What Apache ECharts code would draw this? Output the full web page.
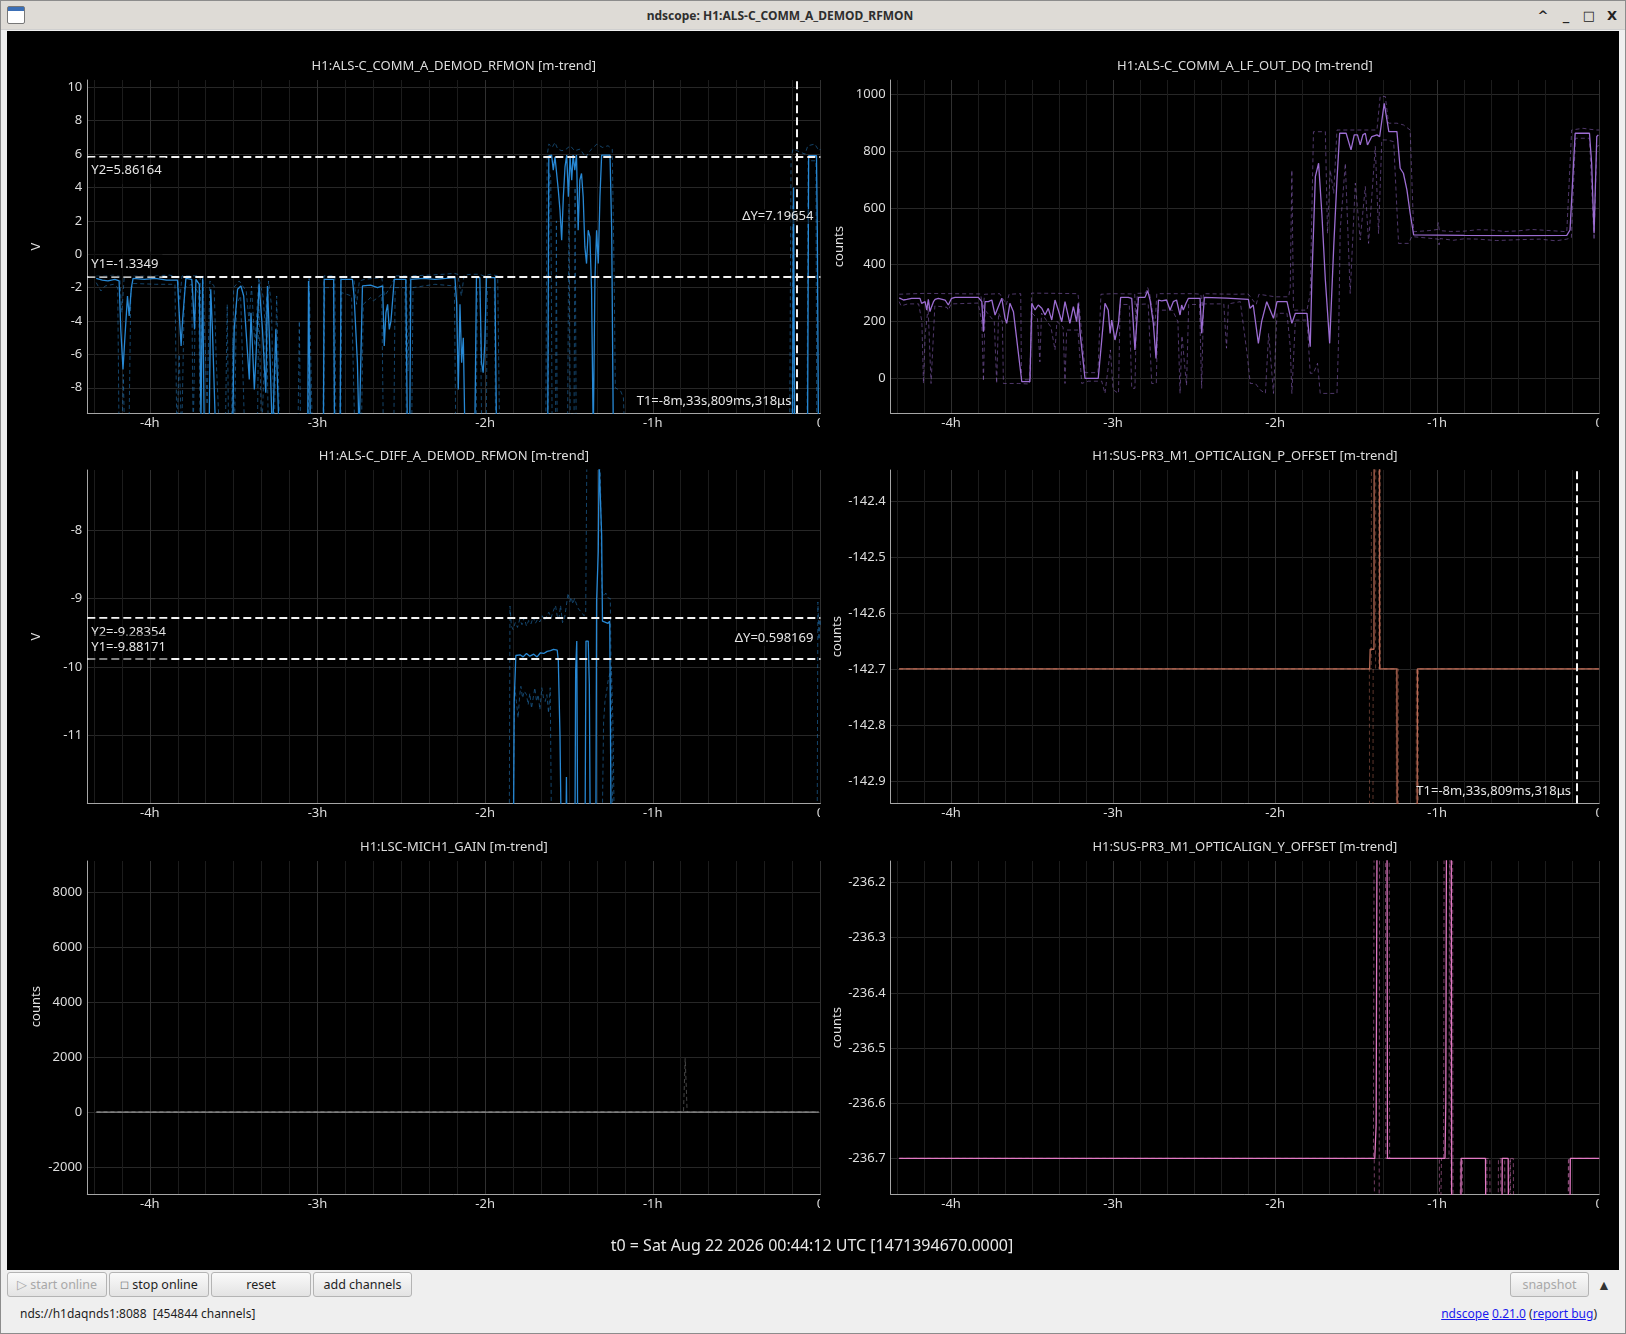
<!DOCTYPE html>
<html><head><meta charset="utf-8">
<script src="https://cdn.jsdelivr.net/npm/echarts@6/dist/echarts.min.js"></script>
<style>
body{margin:0;width:1626px;height:1334px;overflow:hidden;background:#efefef;font-family:"Noto Sans",sans-serif;position:relative}
#frame{position:absolute;left:0;top:0;width:1624px;height:1332px;border:1px solid #8c8c8c}
#titlebar{position:absolute;left:1px;top:1px;width:1624px;height:28px;background:#dedbd6;border-bottom:1px solid #cfcfcf}
#wtitle{position:absolute;left:0;top:1px;width:1558px;text-align:center;line-height:28px;font-weight:bold;font-size:12px;color:#2e2e2e}
#icon{position:absolute;left:6px;top:5px;width:16px;height:16px;border:1px solid #777;background:#fff;border-radius:2px}
#icon div{height:4px;background:#3b6fb6}
.wc{position:absolute;top:1px;line-height:28px;font-weight:bold;font-size:13px;color:#222;text-align:center;width:16px;font-family:"DejaVu Sans",sans-serif}
#plot{position:absolute;left:7px;top:31px;width:1612px;height:1239px;background:#000}
.btn{position:absolute;top:1272px;height:25px;border:1px solid #b4b4b4;border-radius:3px;background:linear-gradient(#fafafa,#e3e3e3);font-size:12.5px;line-height:23px;text-align:center;color:#1e1e1e;box-sizing:border-box;white-space:nowrap}
.dis{color:#a8a8a8}
#status{position:absolute;left:20px;top:1304px;font-size:12px;line-height:20px;color:#1e1e1e;white-space:pre}
#links{position:absolute;right:29px;top:1304px;font-size:12px;line-height:20px;color:#1e1e1e}
#links a{color:#1a1aee;text-decoration:underline}
</style></head>
<body>
<div id="frame"></div>
<div id="titlebar"><div id="icon"><div></div></div><div id="wtitle">ndscope: H1:ALS-C_COMM_A_DEMOD_RFMON</div>
<span class="wc" style="left:1534px">^</span><span class="wc" style="left:1557px">_</span><span class="wc" style="left:1580px">&#9633;</span><span class="wc" style="left:1603px">X</span></div>
<div id="plot"></div>
<div class="btn dis" style="left:7px;width:100px">&#9655; start online</div>
<div class="btn" style="left:109px;width:100px"><span style="font-size:10px;color:#666">&#9744;</span> stop online</div>
<div class="btn" style="left:211px;width:100px">reset</div>
<div class="btn" style="left:313px;width:99px">add channels</div>
<div class="btn dis" style="left:1510px;width:79px">snapshot</div>
<div style="position:absolute;left:1597px;top:1275px;font-size:14px;color:#333">&#9650;</div>
<div id="status">nds://h1daqnds1:8088  [454844 channels]</div>
<div id="links"><a>ndscope</a> <a>0.21.0</a> (<a>report bug</a>)</div>
<script>
// ---------- DATA (time in minutes relative to t0, values in channel units) ----------
const t0Label = 't0 = Sat Aug 22 2026 00:44:12 UTC [1471394670.0000]';
const xRangeHours = [-4.373, 0];
const channelTitles = [
  'H1:ALS-C_COMM_A_DEMOD_RFMON [m-trend]',
  'H1:ALS-C_COMM_A_LF_OUT_DQ [m-trend]',
  'H1:ALS-C_DIFF_A_DEMOD_RFMON [m-trend]',
  'H1:SUS-PR3_M1_OPTICALIGN_P_OFFSET [m-trend]',
  'H1:LSC-MICH1_GAIN [m-trend]',
  'H1:SUS-PR3_M1_OPTICALIGN_Y_OFFSET [m-trend]'
];
const channelUnits = ['V', 'counts', 'V', 'counts', 'counts', 'counts'];
const yRanges = [[-9.53, 10.44], [-123, 1050], [-11.985, -7.125], [-142.940, -142.345], [-2995, 9141], [-236.765, -236.161]];
const yTickSteps = [2, 200, 1, 0.1, 2000, 0.1];

const commA_mean = [[-259.2,-1.45],[-257,-1.55],[-255,-1.6],[-252.5,-1.5],[-251,-1.6],[-250.4,-4.5],[-249.6,-6.9],[-249,-5.2],[-248,-2.5],[-247.4,-3.7],[-246.6,-2.0],[-246,-1.45],[-242,-1.5],[-238,-1.45],[-234,-1.55],[-230.1,-1.55],[-229.5,-3.5],[-228.8,-5.5],[-228.3,-4.0],[-227.1,-1.45],[-225,-1.5],[-224.7,-2.2],[-224,-4.5],[-223.5,-1.5],[-222.3,-1.8],[-221.7,-9.8],[-221.1,-1.45],[-220.5,-11],[-218.8,-11],[-218.2,-2.1],[-217.6,-4.5],[-216.4,-11],[-210.4,-11],[-209.8,-4.5],[-208.6,-2.1],[-207.4,-1.9],[-206.4,-2.5],[-205.6,-4.5],[-204.4,-7.5],[-203.8,-3.5],[-202.6,-8.1],[-202,-6.1],[-200.9,-1.75],[-199.7,-4.5],[-198.5,-8.3],[-197.9,-1.9],[-197.3,-4.5],[-196.1,-11],[-194.9,-4.5],[-193.7,-11],[-183.5,-11],[-183.2,-1.6],[-182.8,-1.6],[-182.5,-11],[-177.9,-11],[-177.6,-1.5],[-174.2,-1.5],[-173.9,-11],[-171.9,-11],[-171.6,-1.5],[-167.5,-1.5],[-166.9,-2.5],[-165.7,-6.5],[-165.1,-11],[-164.4,-11],[-163.9,-1.9],[-161,-1.85],[-158.5,-2.0],[-156.7,-1.9],[-156.1,-5.5],[-155.5,-3.5],[-154.9,-3.0],[-154.3,-4.5],[-153.7,-4.0],[-152.5,-1.5],[-148.4,-1.5],[-147.8,-11],[-147.0,-11],[-146.6,-1.5],[-142,-1.45],[-138,-1.5],[-134,-1.45],[-130.8,-1.4],[-130.2,-2.9],[-129.6,-8.1],[-129,-3.0],[-128.4,-6.5],[-127.8,-5.0],[-127.2,-11],[-123.7,-11],[-123.1,-1.4],[-121.9,-1.4],[-121.3,-6.5],[-120.7,-7.1],[-120.1,-5.3],[-119.5,-1.4],[-116.5,-1.4],[-115.9,-11],[-97.6,-11],[-97.2,5.9],[-96.8,5.8],[-96.2,5.94],[-95.6,5.04],[-95,5.84],[-94.4,5.74],[-93.8,3.84],[-93.2,2.64],[-92.6,0.84],[-92,3.44],[-91.4,5.24],[-90.8,5.94],[-90.2,3.44],[-89.6,5.84],[-89,4.44],[-88.5,5.94],[-87.9,5.04],[-87.3,5.94],[-86.7,1.44],[-86.1,4.44],[-85.5,4.84],[-84.9,3.44],[-84.3,0.44],[-83.7,-0.56],[-83.1,1.44],[-82.5,1.04],[-81.9,-2.14],[-81.3,-11],[-80.7,-1.54],[-80.1,1.44],[-79.5,-0.56],[-78.9,3.44],[-78.3,5.94],[-75.3,5.94],[-74.7,1.44],[-74.1,-11],[-10.0,-11],[-9.6,4.0],[-9.2,-11],[-4.6,-11],[-4.2,5.9],[-1.4,5.9],[-1.1,1.4],[-0.7,-11],[0,-11]];
const commA_max = [[-259.2,-1.3],[-256,-1.3],[-253,-1.25],[-250.8,-1.3],[-250,-3.5],[-249.2,-1.4],[-246,-1.3],[-240,-1.3],[-233,-1.25],[-230,-1.35],[-229.3,-2.8],[-228.5,-1.3],[-222,-1.3],[-221.5,-6],[-221,-1.3],[-220.4,-4.5],[-219.5,-9],[-218.5,-1.6],[-217,-1.9],[-216.2,-6.5],[-215,-11],[-213,-11],[-212.3,-3],[-211.8,-11],[-210.6,-11],[-210,-2.0],[-208,-1.6],[-205.5,-2.2],[-204.5,-4.0],[-203.6,-1.9],[-202.4,-5.5],[-201,-1.4],[-199.5,-2.5],[-198.3,-5],[-197.5,-1.6],[-196.5,-3],[-195.5,-11],[-194.6,-2.5],[-193.5,-11],[-187,-11],[-186.5,-4],[-186,-11],[-183.4,-11],[-183.0,-1.3],[-182.3,-1.4],[-181.8,-11],[-178,-11],[-177.7,-1.3],[-173.8,-1.3],[-173.4,-11],[-172,-11],[-171.6,-1.3],[-167,-1.4],[-166,-3],[-165,-1.6],[-163,-1.5],[-157,-1.4],[-156,-2.5],[-154,-2.0],[-152,-1.3],[-148.2,-1.3],[-147.6,-7],[-146.8,-1.3],[-140,-1.25],[-135,-1.2],[-131,-1.15],[-129.8,-1.2],[-129.2,-1.25],[-128.5,-2.5],[-127.5,-1.25],[-125,-1.2],[-122,-1.2],[-120.5,-1.3],[-118,-1.2],[-115.5,-1.3],[-114.8,-11],[-98.3,-11],[-97.8,5.9],[-97.2,6.6],[-96,6.4],[-95,6.7],[-94,6.3],[-92.5,6.2],[-91,6.3],[-89.5,6.5],[-88,6.2],[-86,6.3],[-84,5.8],[-82.5,6.2],[-80,6.6],[-78,6.4],[-76,6.5],[-74.5,6.3],[-73.8,-1.5],[-73.4,-8.0],[-71.5,-8.2],[-70.5,-8.6],[-70,-11],[-11,-11],[-10.5,5.8],[-9.8,6.3],[-5.5,6.0],[-4.5,6.5],[-2,6.6],[-0.5,6.2],[0,6.3]];
const commA_min = [[-259.2,-1.7],[-257.5,-2.2],[-256,-1.9],[-253,-1.8],[-251.5,-2.0],[-251,-11],[-250,-11],[-249.5,-7.2],[-249,-11],[-247.5,-11],[-246.8,-2.2],[-246,-1.75],[-238,-1.8],[-231,-1.8],[-230.3,-11],[-229.5,-6],[-228.6,-11],[-227.6,-2.0],[-225,-1.8],[-224.5,-11],[-223.6,-2.0],[-222.5,-2.4],[-222,-11],[-210.8,-11],[-210.3,-5],[-209.7,-11],[-209,-3],[-207.5,-2.5],[-206,-11],[-201.5,-11],[-201,-2.3],[-200,-11],[-198.2,-2.5],[-197.6,-11],[-183.3,-11],[-182.9,-2.2],[-182.6,-11],[-177.8,-11],[-177.4,-2.0],[-174.3,-2.0],[-173.9,-11],[-171.7,-11],[-171.3,-2.3],[-167.8,-2.5],[-166.6,-11],[-164.3,-11],[-163.6,-3.0],[-161,-2.6],[-160,-2.8],[-157,-2.4],[-156.4,-11],[-152.7,-11],[-152.2,-2.0],[-148.7,-2.0],[-148.1,-11],[-146.3,-11],[-145.8,-2.0],[-138,-1.8],[-131,-1.9],[-130.5,-11],[-123.2,-11],[-122.8,-2.0],[-121.8,-2.0],[-121.2,-11],[-119.6,-11],[-119.2,-2.0],[-116.7,-2.0],[-116.2,-11],[-97.5,-11],[-97.0,4.9],[-96.5,4.6],[-96,-11],[-94.8,-11],[-94.5,2.0],[-94.2,-11],[-90.5,-11],[-90.0,3.0],[-89.5,-11],[-88.2,-11],[-87.8,4.0],[-87.4,-11],[-10.2,-11],[-9.8,3.0],[-9.4,-11],[-4.8,-11],[-4.4,5.6],[-1.6,5.6],[-1.3,-11],[0,-11]];

const lfOut_mean = [[-259.2,283],[-258.9,281.6],[-257.6,275.7],[-256.4,278],[-254.6,281.6],[-251.5,281.6],[-250.9,264],[-249.6,269.9],[-249,240.5],[-248.4,278],[-247.8,234.7],[-247.2,252.3],[-246.5,269.9],[-245.9,278],[-244.7,281.6],[-242.2,275.7],[-241,258.1],[-239.8,281.6],[-238.5,285],[-229.9,285],[-228.6,269.9],[-228,164.2],[-227.4,269.9],[-226.2,269.9],[-224.9,275.7],[-223.7,222.9],[-222.5,252.3],[-221.2,281.6],[-220,211.2],[-219.4,193.6],[-218.2,264],[-216.9,234.7],[-213.8,-11.8],[-210.8,-11.8],[-210.1,264],[-208.9,240.5],[-207.7,258.1],[-206.4,246.4],[-205.2,222.9],[-204,246.4],[-202.7,205.3],[-201.5,275.7],[-200.3,240.5],[-199,199.4],[-197.8,269.9],[-196,193.6],[-194.7,252.3],[-193.5,199.4],[-192.9,264],[-192.2,158.4],[-190.4,0],[-185.5,0],[-184.2,134.9],[-183,264],[-181.8,240.5],[-181.1,158.4],[-180.5,205.3],[-179.9,170],[-179.3,134.9],[-178,193.6],[-177.2,285],[-174.4,285],[-173.1,281.6],[-171.9,99.7],[-170.6,285],[-168.2,285],[-167.2,308.6],[-166.3,275.7],[-165.1,193.6],[-164.1,70.3],[-163.2,275.7],[-162,273],[-160.2,275.7],[-158.9,240.5],[-157.7,269.9],[-156.5,275.7],[-155.2,222.9],[-154.6,258.1],[-154,240.5],[-153,264],[-152.1,281.6],[-147.8,281.6],[-147.2,158.4],[-146.2,285],[-138,282],[-129.9,278],[-129.3,246.4],[-128.1,258.1],[-126.2,123.2],[-125,199.4],[-123.1,269.9],[-122.4,275.8],[-120.6,211.2],[-119.3,269.9],[-115.6,269.9],[-113.8,193.6],[-112.5,228.8],[-108.2,228.8],[-107,111.4],[-106.4,346.2],[-105.1,710],[-103.9,757],[-102.7,581],[-101.4,346.2],[-99.8,123.2],[-98.3,463.6],[-97.1,698.3],[-96.1,862.6],[-93.7,862.6],[-91.9,803.9],[-90.7,856.8],[-89.5,856.8],[-88.5,821.5],[-87.5,856.8],[-86.6,862.6],[-85.8,821.5],[-84.2,850.9],[-82.3,856.8],[-81.3,850.9],[-79.6,968.2],[-78.6,909.6],[-77.9,868.5],[-74.9,868.5],[-73.7,739.4],[-72.5,721.8],[-71.2,663.1],[-70,581],[-68.7,504.6],[-50,503],[-30,502],[-12,503],[-10.8,522.2],[-8.9,862.6],[-3.6,862.6],[-2.8,757],[-1.9,510.5],[-0.9,850.9],[-0.3,856.8]];
const lfOut_max = [[-259.2,296],[-250,299],[-240,298],[-229,297],[-228.2,230],[-227.6,296],[-222,298],[-219.5,260],[-218.5,296],[-214.2,298],[-213.9,-5],[-210.6,-5],[-210.2,300],[-200,299],[-193,298],[-192,200],[-191.6,158],[-190.3,20],[-185.6,20],[-184.5,296],[-180,298],[-172,297],[-171.6,200],[-171,299],[-168,300],[-167.2,320],[-166.5,300],[-164.5,180],[-163.8,298],[-150,298],[-147.5,296],[-147,250],[-146.5,298],[-135,296],[-130,297],[-127,260],[-126,296],[-120,287],[-115,287],[-114.4,320],[-113.8,733],[-113.2,240],[-108.2,240],[-107,299],[-105.8,868],[-101.4,868],[-100.6,510],[-99.6,733],[-98.3,651],[-97.1,874],[-82.3,874],[-81.1,992],[-79.2,992],[-78,898],[-74.9,898],[-72.5,892],[-70,874],[-68.7,516],[-63,520],[-59.9,524],[-59.6,548],[-59.2,520],[-55,517],[-50,518],[-45,523],[-40,522],[-35,517],[-30,519],[-25,524],[-20,521],[-15,518],[-12,516],[-10.2,874],[-6,880],[-3,876],[-0.9,874],[0,874]];
const lfOut_min = [[-259.2,270],[-258.5,255],[-256,262],[-252,262],[-250.8,200],[-250.2,-18],[-249.6,150],[-248.5,250],[-247.4,-18],[-246.8,-18],[-246,255],[-241.5,250],[-241,240],[-240,262],[-230,265],[-228.6,200],[-228,-10],[-227.4,240],[-224,200],[-223.1,-18],[-222.4,230],[-221,200],[-220.6,-18],[-215.1,-18],[-214.5,-20],[-211,-20],[-210.0,230],[-208,210],[-207.1,58],[-206.5,230],[-203,180],[-201.5,100],[-200.8,200],[-198.5,180],[-197.8,-18],[-197.2,170],[-193,170],[-191.6,-18],[-189.2,-10],[-184.2,-10],[-183,-53],[-181,100],[-180,-40],[-178,-53],[-177.4,260],[-174,260],[-173.1,-35],[-171.9,-35],[-171.3,260],[-167,262],[-165.7,-18],[-164.0,-18],[-163.4,240],[-158,240],[-156,200],[-155.2,-53],[-154.5,150],[-152.8,-25],[-152,260],[-148,260],[-147.2,-35],[-146.5,262],[-139,262],[-138,106],[-137.3,262],[-132.9,270],[-130.4,88],[-129.2,-18],[-127.3,-18],[-125.5,-41],[-123.6,-53],[-122.4,158],[-120.6,-53],[-119.3,229],[-115.6,229],[-114.4,111],[-113.8,-53],[-112.5,205],[-108.2,205],[-107,18],[-105.8,18],[-104.3,53],[-103.3,-53],[-97.1,-53],[-96.5,135],[-95.9,522],[-94,757],[-92.2,299],[-90.3,687],[-88.5,487],[-86.6,675],[-85.4,475],[-84.2,640],[-82.9,816],[-81.7,510],[-80.5,839],[-78.6,839],[-76.1,833],[-74.3,475],[-70.6,475],[-69.4,499],[-59.6,490],[-59.3,470],[-58.9,492],[-54,486],[-50,491],[-45,490],[-38,485],[-30,488],[-22,490],[-16,484],[-12,490],[-10.3,495],[-8.8,845],[-3.6,845],[-1.9,487],[-0.9,816],[0,820]];

const diffA_mean = [[-259.2,-13],[-109.9,-13],[-109.6,-10.5],[-109,-9.83],[-107.5,-9.82],[-106.4,-9.85],[-105.2,-9.80],[-104,-9.84],[-102.6,-9.81],[-101.4,-9.85],[-100.2,-9.79],[-99,-9.80],[-97.8,-9.77],[-96.6,-9.76],[-95.5,-9.74],[-94.8,-9.72],[-94.2,-9.75],[-93.8,-9.91],[-93.2,-11],[-92.6,-13],[-91.2,-13],[-90.9,-11.6],[-90.6,-13],[-87.9,-13],[-87.6,-10.06],[-87.2,-9.62],[-86.8,-13],[-84.3,-13],[-83.9,-9.62],[-83.1,-9.62],[-82.7,-10.25],[-82.3,-13],[-80.4,-13],[-80.1,-9.04],[-79.5,-8.31],[-79.2,-7.0],[-78.7,-7.0],[-78.3,-8.07],[-78,-9.33],[-76,-9.36],[-75.4,-9.33],[-74.8,-13],[0,-13]];
const diffA_max = [[-259.2,-13],[-111.4,-13],[-111.1,-9.11],[-110.6,-9.4],[-110,-9.45],[-109.2,-9.35],[-108.4,-9.42],[-107.6,-9.3],[-106.8,-9.38],[-106,-9.28],[-105.2,-9.4],[-104.4,-9.32],[-103.6,-9.37],[-102.8,-9.27],[-102,-9.36],[-101.2,-9.3],[-100.4,-9.34],[-99.6,-9.25],[-98.8,-9.32],[-98,-9.26],[-97.2,-9.2],[-96.4,-9.28],[-95.6,-9.18],[-94.8,-9.1],[-94.2,-9.25],[-93.6,-9.3],[-93.0,-9.1],[-92.3,-9.35],[-91.6,-9.3],[-90.9,-9.32],[-90.3,-8.92],[-89.7,-9.05],[-89.2,-8.98],[-88.6,-9.08],[-88,-9.0],[-87.4,-9.07],[-86.6,-9.15],[-85.5,-9.2],[-84.6,-9.25],[-84.0,-9.2],[-83.6,-7.0],[-78.8,-7.0],[-78.2,-8.9],[-77.6,-8.97],[-76.8,-8.92],[-76,-8.99],[-75.2,-9.0],[-74.5,-9.02],[-74.1,-13],[-1.2,-13],[-0.9,-9.05],[-0.5,-9.6],[-0.2,-9.3],[0,-9.4]];
const diffA_min = [[-259.2,-13],[-110.2,-13],[-109.4,-10.28],[-108.8,-10.5],[-108.2,-10.74],[-107.6,-10.4],[-107.2,-10.28],[-106.6,-10.45],[-106,-10.35],[-105.2,-10.40],[-104.6,-10.55],[-104,-10.38],[-103.4,-10.6],[-102.8,-10.45],[-102.2,-10.3],[-101.6,-10.5],[-101,-10.4],[-100.4,-10.62],[-99.7,-10.3],[-99.1,-10.45],[-98.5,-10.5],[-97.9,-10.4],[-97.3,-10.67],[-96.7,-10.3],[-96.1,-13],[-78.3,-13],[-77.6,-10.8],[-77.1,-10.5],[-76.5,-10.35],[-76,-10.2],[-75.4,-10.1],[-74.8,-10.0],[-74.2,-10.9],[-73.6,-13],[0,-13]];

const pOffset_mean = [[-259.2,-142.7],[-85.0,-142.7],[-84.8,-142.665],[-83.4,-142.665],[-83.2,-141.5],[-81.5,-141.5],[-81.3,-142.7],[-74.9,-142.7],[-74.6,-143.5],[-67.6,-143.5],[-67.3,-142.7],[0,-142.7]];
const pOffset_max = [[-259.2,-142.7],[-84.4,-142.7],[-84.2,-141.5],[-81.2,-141.5],[-81.0,-142.7],[-74.4,-142.7],[-74.2,-143.5],[-67.9,-143.5],[-67.7,-142.7],[0,-142.7]];
const pOffset_min = [[-259.2,-142.7],[-85.1,-142.7],[-84.9,-143.5],[-83.9,-143.5],[-83.7,-142.7],[-82.8,-142.7],[-82.6,-141.5],[-81.8,-141.5],[-81.6,-142.7],[-75.2,-142.7],[-74.9,-143.5],[-67.2,-143.5],[-66.9,-142.7],[0,-142.7]];

const mich_mean = [[-259.1,0],[-48.6,0],[-48.2,20],[-47.8,0],[-0.6,0]];
const mich_max = [[-259.1,0],[-49.0,0],[-48.4,1950],[-48.0,900],[-47.7,0],[-0.6,0]];
const mich_min = [[-259.1,0],[-48.5,0],[-48.3,-30],[-48.0,0],[-0.6,0]];

const yOffset_mean = [[-259.2,-236.7],[-83.1,-236.7],[-82.6,-236.64],[-82.2,-236.0],[-78.6,-236.0],[-78.4,-236.7],[-57.1,-236.7],[-56.8,-236.6],[-56.5,-236.0],[-54.8,-236.0],[-54.6,-236.9],[-51.3,-236.9],[-51.1,-236.7],[-42.1,-236.7],[-41.9,-236.9],[-36.1,-236.9],[-35.9,-236.7],[-33.7,-236.7],[-33.5,-236.9],[-10.9,-236.9],[-10.7,-236.7],[0,-236.7]];
const yOffset_max = [[-259.2,-236.7],[-83.6,-236.7],[-83.3,-236.0],[-77.8,-236.0],[-77.6,-236.7],[-57.6,-236.7],[-57.4,-236.0],[-54.3,-236.0],[-54.1,-236.9],[-51.6,-236.9],[-51.4,-236.7],[-41.6,-236.7],[-41.4,-236.9],[-37.5,-236.9],[-37.3,-236.7],[-35.0,-236.7],[-34.8,-236.9],[-33.2,-236.9],[-33.0,-236.7],[-31.8,-236.7],[-31.6,-236.9],[-11.4,-236.9],[-11.2,-236.7],[0,-236.7]];
const yOffset_min = [[-259.2,-236.7],[-83.3,-236.7],[-83.1,-236.9],[-81.5,-236.9],[-81.3,-236.0],[-79.2,-236.0],[-79.0,-236.7],[-59.2,-236.7],[-59.0,-236.9],[-58.6,-236.9],[-58.4,-236.7],[-55.6,-236.7],[-55.4,-236.0],[-54.9,-236.0],[-54.7,-236.9],[-50.8,-236.9],[-50.6,-236.7],[-40.5,-236.7],[-40.3,-236.9],[-36.6,-236.9],[-36.4,-236.7],[-32.9,-236.7],[-32.7,-236.9],[-11.6,-236.9],[-11.4,-236.7],[0,-236.7]];

// cursor readouts
const commA_cursor = {Y1: -1.3349, Y2: 5.86164, Y1text: '-1.3349', Y2text: '5.86164', dYtext: '7.19654', T1min: -8.5635, T1text: '-8m,33s,809ms,318\u03bcs'};
const diffA_cursor = {Y1: -9.88171, Y2: -9.28354, Y1text: '-9.88171', Y2text: '-9.28354', dYtext: '0.598169'};
const pOffset_cursor = {T1min: -8.5635, T1text: '-8m,33s,809ms,318\u03bcs'};

// ---------- CHART ----------
const panels = [
  {mean: commA_mean, min: commA_min, max: commA_max, color: '#2788d4', cursor: commA_cursor},
  {mean: lfOut_mean, min: lfOut_min, max: lfOut_max, color: '#9c6dd2'},
  {mean: diffA_mean, min: diffA_min, max: diffA_max, color: '#2788d4', cursor: diffA_cursor},
  {mean: pOffset_mean, min: pOffset_min, max: pOffset_max, color: '#b86a55', cursor: pOffset_cursor},
  {mean: mich_mean, min: mich_min, max: mich_max, color: '#8e8e8e'},
  {mean: yOffset_mean, min: yOffset_min, max: yOffset_max, color: '#e27ac4'}
];
const boxes = [
  {left: 80.3, top: 49, width: 733.1, height: 333.3},
  {left: 883.6, top: 49, width: 708.6, height: 333.3},
  {left: 80.3, top: 439, width: 733.1, height: 333.3},
  {left: 883.6, top: 439, width: 708.6, height: 333.3},
  {left: 80.3, top: 830, width: 733.1, height: 333.3},
  {left: 883.6, top: 830, width: 708.6, height: 333.3}
];
const FONT = '"Noto Sans", sans-serif';
const TXT = '#dddddd';
const toH = arr => arr.map(p => [p[0] / 60, p[1]]);
function onStep(v, step) { const r = v / step; return Math.abs(r - Math.round(r)) < 1e-6; }
function fmtNum(v) { return String(parseFloat(v.toFixed(6))); }

const chart = echarts.init(document.getElementById('plot'), null, {renderer: 'canvas'});
const grid = [], xAxis = [], yAxis = [], series = [];
boxes.forEach((b, i) => {
  grid.push({left: b.left, top: b.top, width: b.width, height: b.height, containLabel: false, outerBoundsMode: 'none'});
  xAxis.push({type: 'value', gridIndex: i, min: xRangeHours[0], max: xRangeHours[1], splitNumber: 5,
    axisLine: {show: true, onZero: false, lineStyle: {color: '#a6a6a6', width: 1}},
    axisTick: {show: false},
    axisLabel: {color: TXT, fontSize: 13, fontFamily: FONT, margin: 3,
      formatter: v => onStep(v, 1) ? (Math.round(v) === 0 ? '0' : Math.round(v) + 'h') : ''},
    splitLine: {show: true, showMinLine: false, lineStyle: {color: '#303030', width: 1}},
    minorTick: {show: false, splitNumber: 6},
    minorSplitLine: {show: true, lineStyle: {color: '#1c1c1c', width: 1}}
  });
  const step = yTickSteps[i];
  yAxis.push({type: 'value', gridIndex: i, min: yRanges[i][0], max: yRanges[i][1], splitNumber: [10, 6, 5, 6, 6, 6][i],
    name: channelUnits[i], nameLocation: 'middle', nameGap: 45,
    nameTextStyle: {color: TXT, fontSize: 13, fontFamily: FONT, padding: i === 4 ? [0, 0, 0, 42] : 0},
    axisLine: {show: true, onZero: false, lineStyle: {color: '#a6a6a6', width: 1}},
    axisTick: {show: false},
    axisLabel: {color: TXT, fontSize: 13, fontFamily: FONT, margin: 5,
      formatter: v => onStep(v, step) ? fmtNum(v) : ''},
    splitLine: {show: true, showMinLine: false, showMaxLine: false, lineStyle: {color: '#272727', width: 1}}
  });
  const p = panels[i];
  const dashStyle = {color: p.color, width: 1, type: [4, 3], opacity: 0.5};
  series.push({type: 'line', xAxisIndex: i, yAxisIndex: i, data: toH(p.min), symbol: 'none', showSymbol: false, silent: true, animation: false, z: 2, lineStyle: dashStyle});
  series.push({type: 'line', xAxisIndex: i, yAxisIndex: i, data: toH(p.max), symbol: 'none', showSymbol: false, silent: true, animation: false, z: 2, lineStyle: dashStyle});
  const meanSeries = {type: 'line', xAxisIndex: i, yAxisIndex: i, data: toH(p.mean), symbol: 'none', showSymbol: false, silent: true, animation: false, z: 3, lineStyle: {color: p.color, width: 1.3}};
  if (p.cursor) {
    const md = [];
    if (p.cursor.Y1 !== undefined) { md.push({yAxis: p.cursor.Y2}); md.push({yAxis: p.cursor.Y1}); }
    if (p.cursor.T1min !== undefined) { md.push({xAxis: p.cursor.T1min / 60}); }
    meanSeries.markLine = {silent: true, symbol: ['none', 'none'], animation: false, label: {show: false},
      emphasis: {disabled: true}, lineStyle: {color: '#f2f2f2', width: 2, type: [8, 4], opacity: 1}, data: md};
  }
  series.push(meanSeries);
});

chart.setOption({backgroundColor: '#000', animation: false, grid, xAxis, yAxis, series});

// ---------- TEXT OVERLAYS ----------
const gfx = [];
function txt(text, x, y, align, extra) {
  return Object.assign({type: 'text', z: 100, silent: true, style: Object.assign({text, x, y, fill: '#e6e6e6', font: '13px ' + FONT, textAlign: align, textVerticalAlign: 'middle'}, extra || {})});
}
boxes.forEach((b, i) => {
  gfx.push(txt(channelTitles[i], b.left + b.width / 2, b.top - 14, 'center', {fill: TXT}));
  // hide the right half of the "0" tick label, as the neighbouring view does in the original
  const rw = (i % 2 === 0) ? 40 : (1612 - (b.left + b.width));
  gfx.push({type: 'rect', z: 100, silent: true, shape: {x: b.left + b.width - 0.5, y: b.top + b.height + 2, width: rw, height: 20}, style: {fill: '#000'}});
  const c = panels[i].cursor;
  if (!c) return;
  if (c.Y1 !== undefined) {
    const y1 = chart.convertToPixel({gridIndex: i}, [0, c.Y1])[1];
    const y2 = chart.convertToPixel({gridIndex: i}, [0, c.Y2])[1];
    const ym = chart.convertToPixel({gridIndex: i}, [0, (c.Y1 + c.Y2) / 2])[1];
    gfx.push(txt('Y2=' + c.Y2text, b.left + 1, y2 + 14, 'left', {backgroundColor: 'rgba(0,0,0,0.45)', padding: [12, 4, 2, 3]}));
    gfx.push(txt('Y1=' + c.Y1text, b.left + 1, y1 - 12, 'left', {backgroundColor: 'rgba(0,0,0,0.45)', padding: [2, 4, 11, 3]}));
    gfx.push(txt('\u0394Y=' + c.dYtext, b.left + b.width - 5, ym, 'right', {backgroundColor: 'rgba(0,0,0,0.6)', padding: [1, 2, 1, 2]}));
  }
  if (c.T1min !== undefined) {
    const xt = chart.convertToPixel({gridIndex: i}, [c.T1min / 60, 0])[0];
    gfx.push(txt('T1=' + c.T1text, xt - 5, b.top + b.height - 12.5, 'right'));
  }
});
gfx.push(txt(t0Label, 805, 1215, 'center', {font: '16px ' + FONT, fill: '#e8e8e8'}));
chart.setOption({graphic: {elements: gfx}});
</script>
</body></html>
